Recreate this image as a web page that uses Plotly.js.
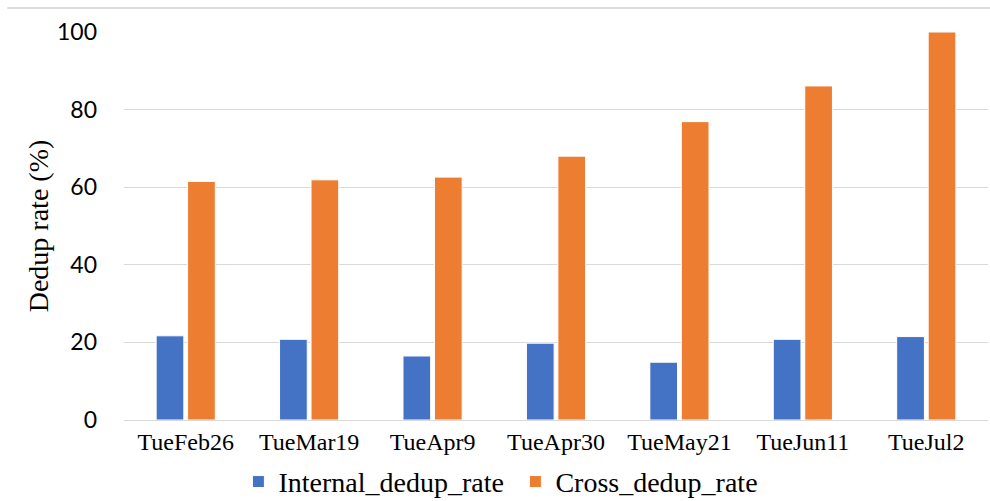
<!DOCTYPE html>
<html>
<head>
<meta charset="utf-8">
<script src="https://cdn.plot.ly/plotly-3.0.1.min.js"></script>
<style>
  html, body { margin: 0; padding: 0; background: #ffffff; }
  #chart { width: 990px; height: 501px; }
</style>
</head>
<body>
<div id="chart"></div>
<script>
// Snapshot dates
const dates = ['TueFeb26', 'TueMar19', 'TueApr9', 'TueApr30', 'TueMay21', 'TueJun11', 'TueJul2'];

// Dedup rates in percent
const internalDedupRate = [21.7, 20.8, 16.5, 19.8, 14.9, 20.8, 21.5];
const crossDedupRate = [61.5, 61.9, 62.6, 68.0, 76.9, 86.1, 100.0];

const yTicks = [0, 20, 40, 60, 80, 100];

const serif = '"Liberation Serif", "Times New Roman", serif';

const traces = [
  {
    type: 'bar',
    name: 'Internal_dedup_rate',
    x: dates,
    y: internalDedupRate,
    marker: { color: '#4472C4', line: { color: '#ffffff', width: 1 } },
    hoverinfo: 'x+y'
  },
  {
    type: 'bar',
    name: 'Cross_dedup_rate',
    x: dates,
    y: crossDedupRate,
    marker: { color: '#ED7D31', line: { color: '#ffffff', width: 1 } },
    hoverinfo: 'x+y'
  }
];

const layout = {
  width: 990,
  height: 501,
  margin: { l: 124, r: 2, t: 32, b: 81, pad: 0, autoexpand: false },
  paper_bgcolor: '#ffffff',
  plot_bgcolor: '#ffffff',
  barmode: 'group',
  bargap: 0.49,
  bargroupgap: 0.12,
  xaxis: {
    type: 'category',
    showgrid: false,
    showline: true,
    linecolor: '#d9d9d9',
    linewidth: 1,
    ticks: '',
    ticklabelstandoff: 0,
    tickfont: { family: serif, size: 24, color: '#000000' },
    automargin: false,
    fixedrange: true
  },
  yaxis: {
    range: [0, 100],
    tickvals: yTicks,
    ticktext: yTicks.map(String),
    showgrid: true,
    gridcolor: '#d9d9d9',
    gridwidth: 1,
    zeroline: false,
    showline: false,
    ticks: '',
    ticklabelstandoff: 26,
    tickfont: { family: 'Lato, "Open Sans", sans-serif', size: 23, color: '#000000' },
    title: {
      text: 'Dedup rate (%)',
      font: { family: serif, size: 28, color: '#000000' },
      standoff: 0
    },
    automargin: false,
    fixedrange: true
  },
  showlegend: true,
  legend: {
    orientation: 'h',
    x: 0.453,
    xanchor: 'center',
    y: -0.095,
    yanchor: 'top',
    entrywidth: 232,
    font: { family: serif, size: 28, color: '#000000' },
    bgcolor: 'rgba(0,0,0,0)'
  },
  shapes: [
    {
      type: 'line',
      xref: 'paper', yref: 'paper',
      x0: -0.135, x1: 1.01,
      y0: 1.062, y1: 1.062,
      line: { color: '#d0d0d0', width: 1.5 }
    }
  ]
};

Plotly.newPlot('chart', traces, layout, { displayModeBar: false, staticPlot: true });
</script>
</body>
</html>
